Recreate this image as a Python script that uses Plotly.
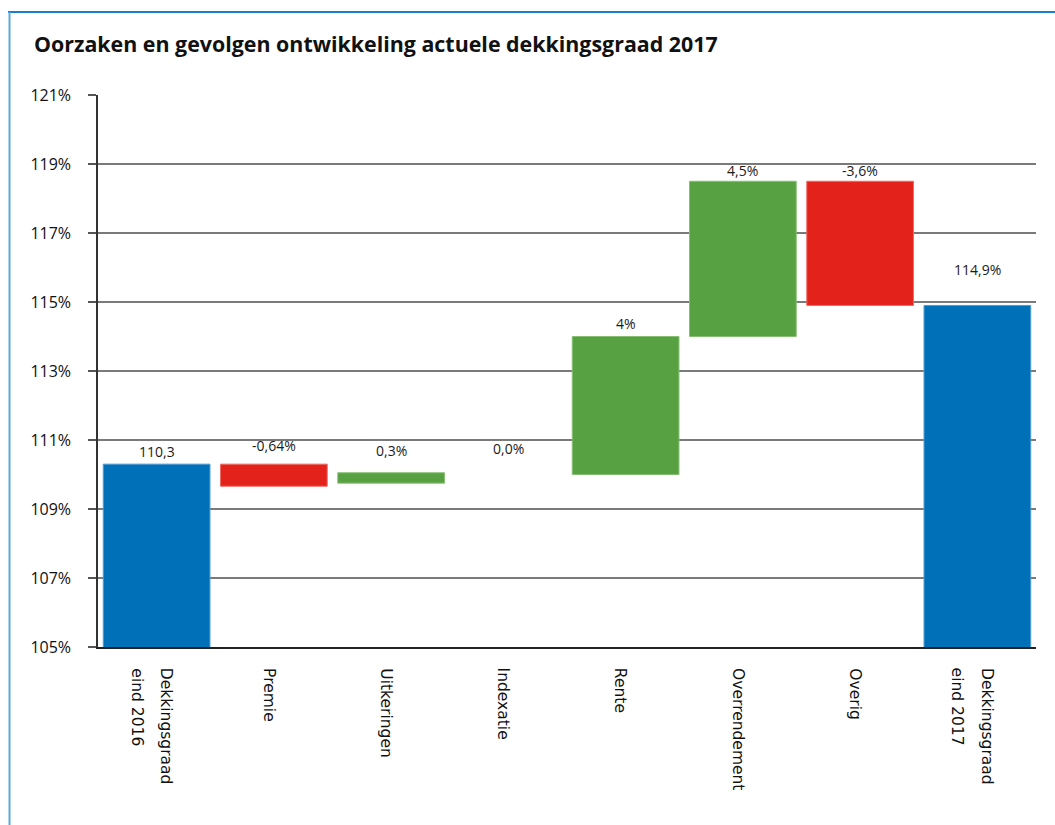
import plotly.graph_objects as go

# Waterfall of the funding ratio (dekkingsgraad) over 2017
categories = [
    "Dekkingsgraad<br>eind 2016",
    "Premie",
    "Uitkeringen",
    "Indexatie",
    "Rente",
    "Overrendement",
    "Overig",
    "Dekkingsgraad<br>eind 2017",
]
# bar heights (totals for the two end bars, changes for the rest)
values = [110.3, -0.64, 0.3, 0.0, 4.0, 4.5, -3.6, 114.9]
# level each bar starts from
bases = [0.0, 110.3, 109.75, 110.0, 110.0, 114.0, 118.5, 0.0]
labels = ["110,3", "-0,64%", "0,3%", "0,0%", "4%", "4,5%", "-3,6%", "114,9%"]
kinds = ["total", "down", "up", "up", "up", "up", "down", "total"]

y_ticks = [105, 107, 109, 111, 113, 115, 117, 119, 121]
y_tick_text = [f"{t}%" for t in y_ticks]

fill = {"total": "#0071b9", "up": "#58a143", "down": "#e3231b"}
edge = {"total": "#4d9bd3", "up": "#86bf74", "down": "#ee6a62"}

# vertical gap (px) between bar top and its value label
label_gap = [1, 7, 11, 15, 2, -1, -1, 24]

W, H = 1055, 825
L, R, T, B = 98, 19, 95, 178

fig = go.Figure()
fig.add_trace(go.Bar(
    x=categories,
    y=values,
    base=bases,
    width=0.91,
    marker=dict(color=[fill[k] for k in kinds],
                line=dict(color=[edge[k] for k in kinds],
                          width=[1 if v != 0 else 0 for v in values])),
    hoverinfo="skip",
    showlegend=False,
))

for cat, v, b, txt, gap in zip(categories, values, bases, labels, label_gap):
    top = max(b, b + v)
    fig.add_annotation(
        x=cat, y=top, text=txt, showarrow=False,
        yanchor="bottom", yshift=gap,
        font=dict(family="Open Sans", size=14, color="#1a1a1a"),
    )

# category labels: vertical, reading downwards, lines top-aligned
LINE_STEP = 30
for cat in categories:
    lines = cat.split("<br>")
    n = len(lines)
    for i, line in enumerate(lines):
        fig.add_annotation(
            x=cat, xref="x", y=0, yref="paper",
            text=line, textangle=90, showarrow=False,
            xanchor="center", yanchor="top",
            xshift=-5 - (i - (n - 1) / 2) * LINE_STEP, yshift=-19,
            font=dict(family="DejaVu Sans", size=15.5, color="#111111"),
        )

pw, ph = W - L - R, H - T - B


def px(x):
    return (x - L) / pw


def py(y):
    return (H - B - y) / ph


# title
fig.add_annotation(
    xref="paper", yref="paper", x=px(32), y=py(43),
    xanchor="left", yanchor="middle", showarrow=False,
    text="<b>Oorzaken en gevolgen ontwikkeling actuele dekkingsgraad 2017</b>",
    font=dict(family="Open Sans", size=21.4, color="#111111"),
)

# frame around the chart
fig.add_shape(type="line", xref="paper", yref="paper",
              x0=px(8), x1=px(1060), y0=py(12), y1=py(12),
              line=dict(color="#1b7fcf", width=2))
fig.add_shape(type="line", xref="paper", yref="paper",
              x0=px(9.5), x1=px(9.5), y0=py(12), y1=py(830),
              line=dict(color="#5aa9dc", width=2))

fig.update_layout(
    width=W, height=H,
    margin=dict(l=L, r=R, t=T, b=B),
    paper_bgcolor="white",
    plot_bgcolor="white",
    bargap=0.09,
    xaxis=dict(
        type="category",
        showgrid=False,
        ticks="",
        showticklabels=False,
        showline=True, linecolor="#222222", linewidth=1.5,
        fixedrange=True,
    ),
    yaxis=dict(
        range=[105, 121],
        tickvals=y_ticks,
        ticktext=y_tick_text,
        showgrid=True, gridcolor="#7a7a7a", gridwidth=1.5,
        zeroline=False,
        showline=True, linecolor="#333333", linewidth=1.5,
        ticks="outside", ticklen=8, tickcolor="#555555", tickwidth=1.5,
        tickfont=dict(family="Open Sans", size=16, color="#111111"),
        ticklabelstandoff=14,
        fixedrange=True,
    ),
)

fig.write_html("out.html")
